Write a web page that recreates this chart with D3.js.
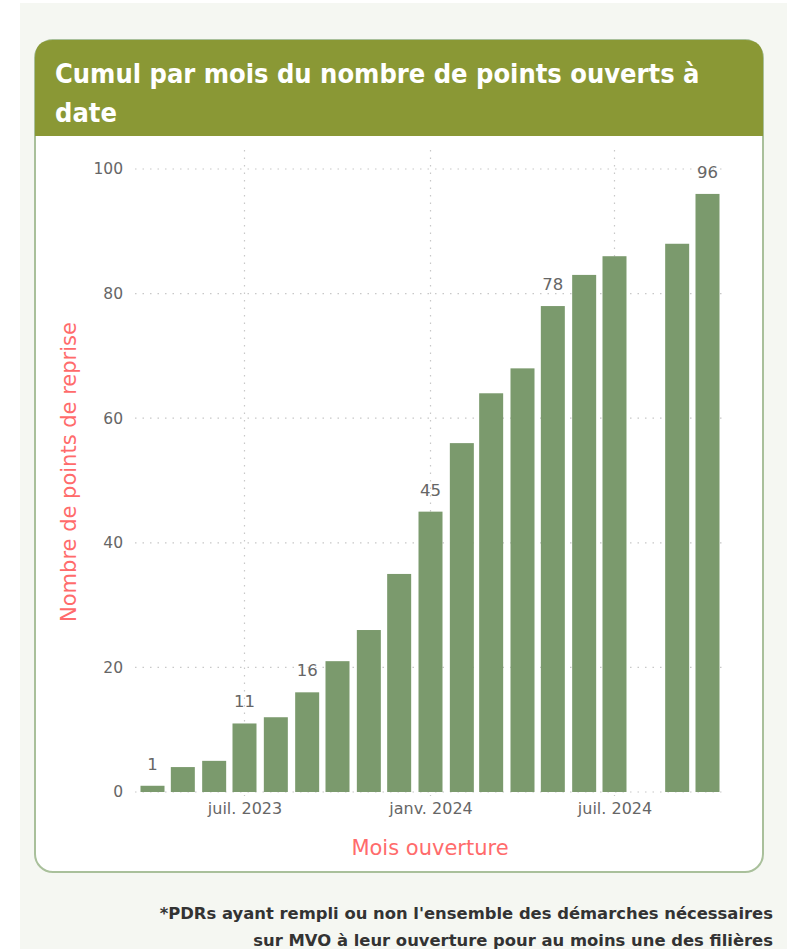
<!DOCTYPE html>
<html lang="fr">
<head>
<meta charset="utf-8">
<title>Cumul par mois</title>
<script src="https://d3js.org/d3.v7.min.js"></script>
<style>
  body { margin: 0; background: #fff; }
  svg { display: block; }
</style>
</head>
<body>
<svg width="787" height="949"></svg>
<script>
// months (first day) and cumulative counts; Aug 2024 has no bar
var months = ["2023-04","2023-05","2023-06","2023-07","2023-08","2023-09","2023-10","2023-11","2023-12",
              "2024-01","2024-02","2024-03","2024-04","2024-05","2024-06","2024-07","2024-09","2024-10"];
var values = [1, 4, 5, 11, 12, 16, 21, 26, 35, 45, 56, 64, 68, 78, 83, 86, 88, 96];
var labelled = ["2023-04","2023-07","2023-09","2024-01","2024-05","2024-10"];
var yTicks = [0, 20, 40, 60, 80, 100];
var xTicks = ["2023-07","2024-01","2024-07"];
var xTickLabels = ["juil. 2023","janv. 2024","juil. 2024"];

var parse = d3.timeParse("%Y-%m");
var data = months.map(function(m, i) { return { month: parse(m), key: m, value: values[i] }; });

var svg = d3.select("svg");

// page background
svg.append("rect").attr("x", 20).attr("y", 3).attr("width", 767).attr("height", 946).attr("fill", "#f5f7f2");

// card
var card = { x: 35, y: 40, w: 728, h: 832, r: 18 };
svg.append("rect")
   .attr("x", card.x).attr("y", card.y).attr("width", card.w).attr("height", card.h)
   .attr("rx", card.r).attr("fill", "#fff").attr("stroke", "#a9c09b").attr("stroke-width", 2);

// header with rounded top corners only
var hb = 136;
svg.append("path")
   .attr("d", "M" + card.x + "," + hb + " V" + (card.y + card.r) +
              " Q" + card.x + "," + card.y + " " + (card.x + card.r) + "," + card.y +
              " H" + (card.x + card.w - card.r) +
              " Q" + (card.x + card.w) + "," + card.y + " " + (card.x + card.w) + "," + (card.y + card.r) +
              " V" + hb + " Z")
   .attr("fill", "#8a9835");

var title = svg.append("text")
   .attr("fill", "#fff").attr("font-family", "'DejaVu Sans Condensed', 'DejaVu Sans', sans-serif")
   .attr("font-weight", "bold").attr("font-size", 27);
title.append("tspan").attr("x", 55).attr("y", 83).text("Cumul par mois du nombre de points ouverts à");
title.append("tspan").attr("x", 55).attr("y", 122).text("date");

// scales
var x = d3.scaleTime().domain([parse("2023-04"), parse("2024-10")]).range([152.5, 707.5]);
var y = d3.scaleLinear().domain([0, 100]).range([792, 169]);
var barW = 24;
var plotLeft = 135, plotRight = 722;

var grid = svg.append("g").attr("stroke", "#c8c8c8").attr("stroke-width", 1.2).attr("stroke-dasharray", "1.5,6");
grid.selectAll("line.h").data(yTicks).enter().append("line")
    .attr("x1", plotLeft).attr("x2", plotRight)
    .attr("y1", function(d) { return y(d); }).attr("y2", function(d) { return y(d); });
grid.selectAll("line.v").data(xTicks).enter().append("line")
    .attr("x1", function(d) { return x(parse(d)); }).attr("x2", function(d) { return x(parse(d)); })
    .attr("y1", 150).attr("y2", 796);

// bars
svg.append("g").selectAll("rect").data(data).enter().append("rect")
   .attr("x", function(d) { return x(d.month) - barW / 2; })
   .attr("y", function(d) { return y(d.value); })
   .attr("width", barW)
   .attr("height", function(d) { return y(0) - y(d.value); })
   .attr("fill", "#7b9a6d");

// data labels
svg.append("g").selectAll("text").data(data.filter(function(d) { return labelled.indexOf(d.key) >= 0; }))
   .enter().append("text")
   .attr("x", function(d) { return x(d.month); })
   .attr("y", function(d) { return y(d.value) - 16; })
   .attr("text-anchor", "middle").attr("font-family", "'DejaVu Sans', sans-serif").attr("font-size", 16.5)
   .attr("fill", "#666").text(function(d) { return d.value; });

// y axis
var yAxis = svg.append("g").attr("transform", "translate(123,0)")
   .call(d3.axisLeft(y).tickValues(yTicks).tickSize(0).tickPadding(0));
yAxis.select(".domain").remove();
yAxis.selectAll("text").attr("font-family", "'DejaVu Sans', sans-serif").attr("font-size", 15.5).attr("fill", "#666");

// x axis
var xAxis = svg.append("g").attr("transform", "translate(0,800)")
   .call(d3.axisBottom(x).tickValues(xTicks.map(parse)).tickSize(0).tickPadding(3)
   .tickFormat(function(d, i) { return xTickLabels[i]; }));
xAxis.select(".domain").remove();
xAxis.selectAll("text").attr("font-family", "'DejaVu Sans', sans-serif").attr("font-size", 16).attr("fill", "#666");

// axis titles
svg.append("text").attr("transform", "translate(76,472) rotate(-90)")
   .attr("text-anchor", "middle").attr("font-family", "'DejaVu Sans', sans-serif").attr("font-size", 21)
   .attr("fill", "#ff6b6b").text("Nombre de points de reprise");
svg.append("text").attr("x", 430).attr("y", 855)
   .attr("text-anchor", "middle").attr("font-family", "'DejaVu Sans', sans-serif").attr("font-size", 21)
   .attr("fill", "#ff6b6b").text("Mois ouverture");

// footnote
var foot = svg.append("text").attr("text-anchor", "end").attr("font-family", "'DejaVu Sans', sans-serif")
   .attr("font-weight", "bold").attr("font-size", 16.4).attr("fill", "#333");
foot.append("tspan").attr("x", 773).attr("y", 919).text("*PDRs ayant rempli ou non l'ensemble des démarches nécessaires");
foot.append("tspan").attr("x", 773).attr("y", 946).text("sur MVO à leur ouverture pour au moins une des filières");
</script>
</body>
</html>
